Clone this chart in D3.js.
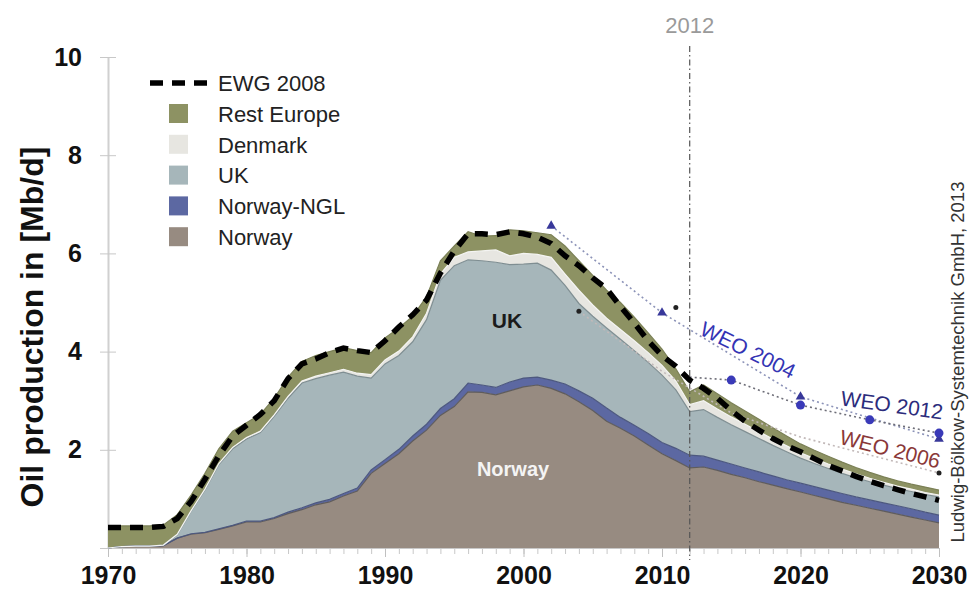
<!DOCTYPE html>
<html>
<head>
<meta charset="utf-8">
<script src="https://cdn.jsdelivr.net/npm/d3@7"></script>
<style>
  body { margin: 0; background: #fff; }
  svg { font-family: "Liberation Sans", Arial, sans-serif; }
</style>
</head>
<body>
<svg id="chart" width="974" height="589"></svg>
<script>
// yearly production, Mb/d, 1970..2030
const years = d3.range(1970, 2031)
const norway = [0, .03, .04, .04, .05, .20, .28, .31, .38, .45,
    .53, .53, .60, .70, .78, .88, .94, 1.06, 1.16, 1.52,
    1.72, 1.92, 2.18, 2.40, 2.70, 2.88, 3.18, 3.17, 3.12, 3.20,
    3.28, 3.32, 3.25, 3.14, 2.98, 2.80, 2.58, 2.44, 2.28, 2.10,
    1.92, 1.78, 1.63, 1.65, 1.58, 1.50, 1.43, 1.35, 1.28, 1.21,
    1.14, 1.07, 1.00, .93, .87, .81, .75, .69, .63, .57, .51]
const norwayNgl = [0, 0, 0, 0, 0, 0, .01, .01, .01, .01,
    .02, .02, .02, .03, .04, .04, .05, .05, .06, .07,
    .08, .09, .10, .12, .14, .16, .18, .15, .15, .18,
    .18, .16, .17, .20, .22, .25, .27, .22, .22, .23,
    .23, .25, .26, .22, .21, .21, .20, .20, .19, .18,
    .18, .18, .18, .18, .17, .17, .17, .17, .17, .16, .16]
const uk = [0, 0, 0, 0, .01, .07, .46, .86, 1.31, 1.56,
    1.67, 1.80, 2.06, 2.32, 2.54, 2.53, 2.53, 2.47, 2.28, 1.87,
    1.95, 1.91, 1.92, 2.13, 2.61, 2.71, 2.51, 2.53, 2.55, 2.39,
    2.32, 2.32, 2.24, 2.01, 1.78, 1.67, 1.63, 1.59, 1.52, 1.45,
    1.37, 1.19, .89, .95, .87, .80, .74, .68, .62, .57,
    .51, .47, .44, .41, .39, .37, .36, .35, .35, .36, .37]
const denmark = [0, 0, 0, 0, 0, .01, .01, .02, .02, .03,
    .03, .03, .03, .04, .04, .05, .05, .06, .06, .07,
    .08, .09, .10, .13, .13, .17, .16, .20, .25, .18,
    .22, .18, .26, .23, .27, .23, .20, .20, .20, .20,
    .20, .18, .14, .18, .17, .16, .15, .14, .13, .12,
    .11, .10, .09, .09, .08, .07, .06, .05, .05, .04, .04]
const restEurope = [.45, .42, .41, .41, .41, .40, .32, .32, .30, .33,
    .30, .34, .34, .39, .40, .42, .43, .44, .46, .45,
    .45, .47, .42, .34, .27, .23, .41, .30, .29, .53,
    .46, .44, .46, .57, .60, .60, .57, .55, .48, .40,
    .33, .25, .26, .32, .31, .29, .27, .25, .23, .20,
    .18, .17, .16, .14, .13, .12, .11, .11, .10, .11, .10]
const ewg2008 = [.42, .42, .42, .42, .44, .60, .95, 1.40, 1.88, 2.28,
    2.50, 2.72, 3.00, 3.45, 3.75, 3.85, 3.98, 4.07, 4.02, 3.98,
    4.22, 4.50, 4.75, 5.05, 5.60, 6.05, 6.40, 6.40, 6.38, 6.44,
    6.40, 6.33, 6.20, 5.95, 5.75, 5.50, 5.28, 4.92, 4.58, 4.22,
    3.92, 3.70, 3.42, 3.25, 3.05, 2.80, 2.58, 2.40, 2.23, 2.08,
    1.96, 1.82, 1.68, 1.57, 1.46, 1.36, 1.27, 1.19, 1.11, 1.04, .97]

// WEO outlooks
const weo2004Years = [2002, 2010, 2020, 2030]
const weo2004Values = [6.56, 4.79, 3.08, 2.22]
const weo2006Years = [2004, 2010, 2015, 2020, 2030]
const weo2006Values = [4.82, 3.60, 2.75, 2.26, 1.53]
const weo2012Years = [2012, 2015, 2020, 2025, 2030]
const weo2012Values = [3.48, 3.42, 2.91, 2.61, 2.34]
const weoDotYears = [2004, 2011, 2030]
const weoDotValues = [4.82, 4.90, 1.53]

const keys = ['norway', 'norwayNgl', 'uk', 'denmark', 'restEurope']
const labels = {norway: 'Norway', norwayNgl: 'Norway-NGL', uk: 'UK', denmark: 'Denmark', restEurope: 'Rest Europe'}
const fills = {norway: '#978b81', norwayNgl: '#5c68a2', uk: '#a6b6ba', denmark: '#e7e6e1', restEurope: '#8d9263'}
const edges = {norway: '#5f5c5c', norwayNgl: '#4d587f', uk: '#7f8e92', denmark: '#f4f4f2', restEurope: '#7b8056'}
const yTicks = [2, 4, 6, 8, 10]
const xTicks = [1970, 1980, 1990, 2000, 2010, 2020, 2030]

const svg = d3.select('#chart')
const x = d3.scaleLinear().domain([1970, 2030]).range([108, 939])
const y = d3.scaleLinear().domain([0, 10]).range([548, 57])

const rows = years.map((yr, i) => ({
    year: yr, norway: norway[i], norwayNgl: norwayNgl[i], uk: uk[i],
    denmark: denmark[i], restEurope: restEurope[i]
}))
const stacked = d3.stack().keys(keys)(rows)

const area = d3.area()
    .x(d => x(d.data.year))
    .y0(d => y(d[0]))
    .y1(d => y(d[1]))
const topLine = d3.line()
    .x(d => x(d.data.year))
    .y(d => y(d[1]))

// axes first, areas cover them
const xMinor = svg.append('g')
    .attr('transform', `translate(0,${y(0)})`)
    .call(d3.axisBottom(x).tickValues(years).tickSize(6).tickFormat(''))
xMinor.select('.domain').attr('stroke', '#c8c8c8')
xMinor.selectAll('.tick line').attr('stroke', '#c8c8c8')

const xMajor = svg.append('g')
    .attr('transform', `translate(0,${y(0)})`)
    .call(d3.axisBottom(x).tickValues(xTicks).tickSize(9).tickPadding(9).tickFormat(d3.format('d')))
xMajor.select('.domain').remove()
xMajor.selectAll('.tick line').attr('stroke', '#c0c0c0')
xMajor.selectAll('.tick text')
    .attr('font-size', 25).attr('font-weight', 'bold').attr('fill', '#111')
    .attr('font-family', '"Liberation Sans", Arial, sans-serif')

const yAxis = svg.append('g')
    .attr('transform', `translate(${x(1970)},0)`)
    .call(d3.axisLeft(y).tickValues([0].concat(yTicks)).tickSize(8).tickPadding(18).tickSizeOuter(0))
yAxis.select('.domain').attr('stroke', '#d0d0d0').attr('stroke-width', 2)
yAxis.selectAll('.tick line').attr('x2', 8).attr('x1', -8).attr('stroke', '#c8c8c8')
yAxis.selectAll('.tick text')
    .text(d => d === 0 ? '' : d)
    .attr('font-size', 25).attr('font-weight', 'bold').attr('fill', '#111')
    .attr('font-family', '"Liberation Sans", Arial, sans-serif')

svg.append('text')
    .attr('transform', `translate(43,327) rotate(-90)`)
    .attr('text-anchor', 'middle')
    .attr('font-size', 32).attr('font-weight', 'bold').attr('fill', '#111')
    .text('Oil production in [Mb/d]')

// stacked areas
svg.append('g').selectAll('path.layer')
    .data(stacked)
    .join('path')
    .attr('class', 'layer')
    .attr('d', area)
    .attr('fill', d => fills[d.key])

svg.append('g').selectAll('path.edge')
    .data(stacked)
    .join('path')
    .attr('class', 'edge')
    .attr('d', topLine)
    .attr('fill', 'none')
    .attr('stroke', d => edges[d.key])
    .attr('stroke-width', 1.2)

// 2012 marker line
svg.append('line')
    .attr('x1', x(2012)).attr('x2', x(2012))
    .attr('y1', 46).attr('y2', y(0) + 12)
    .attr('stroke', '#555').attr('stroke-width', 1.2)
    .attr('stroke-dasharray', '6,3,1.5,3')
svg.append('text')
    .attr('x', x(2012)).attr('y', 33)
    .attr('text-anchor', 'middle')
    .attr('font-size', 22).attr('fill', '#9a9a9a')
    .text('2012')

// WEO outlooks
const pts = (ys, vs) => ys.map((yr, i) => [x(yr), y(vs[i])])
const weoLine = d3.line()

svg.append('path')
    .attr('d', weoLine(pts(weo2004Years, weo2004Values)))
    .attr('fill', 'none').attr('stroke', '#8c93b8').attr('stroke-width', 1.6)
    .attr('stroke-dasharray', '2,3')
svg.append('path')
    .attr('d', weoLine(pts(weo2006Years, weo2006Values)))
    .attr('fill', 'none').attr('stroke', '#c2b9b9').attr('stroke-width', 1.6)
    .attr('stroke-dasharray', '2,3')
svg.append('path')
    .attr('d', weoLine(pts(weo2012Years, weo2012Values)))
    .attr('fill', 'none').attr('stroke', '#6e6e78').attr('stroke-width', 1.6)
    .attr('stroke-dasharray', '2,3')

const tri = d3.symbol().type(d3.symbolTriangle).size(40)
svg.append('g').selectAll('path')
    .data(pts(weo2004Years, weo2004Values))
    .join('path')
    .attr('transform', d => `translate(${d[0]},${d[1]})`)
    .attr('d', tri)
    .attr('fill', '#38389a')

svg.append('g').selectAll('circle')
    .data(pts(weo2012Years, weo2012Values).slice(1))
    .join('circle')
    .attr('cx', d => d[0]).attr('cy', d => d[1])
    .attr('r', 4.5).attr('fill', '#3a3ab8')

svg.append('g').selectAll('circle')
    .data(pts(weoDotYears, weoDotValues))
    .join('circle')
    .attr('cx', d => d[0]).attr('cy', d => d[1])
    .attr('r', 2.5).attr('fill', '#222')

// EWG 2008 dashed
svg.append('path')
    .datum(years.map((yr, i) => [x(yr), y(ewg2008[i])]))
    .attr('d', d3.line())
    .attr('fill', 'none').attr('stroke', '#000').attr('stroke-width', 5.5)
    .attr('stroke-dasharray', '13,9')

// labels on chart
svg.append('text')
    .attr('x', 507).attr('y', 328).attr('text-anchor', 'middle')
    .attr('font-size', 21).attr('font-weight', 'bold').attr('fill', '#1b1b1b')
    .text('UK')
svg.append('text')
    .attr('x', 513).attr('y', 476).attr('text-anchor', 'middle')
    .attr('font-size', 20).attr('font-weight', 'bold').attr('fill', '#f4f4f4')
    .text('Norway')

const weoLabels = [
    {text: 'WEO 2004', cx: 748, cy: 350, angle: 26, color: '#3434b4'},
    {text: 'WEO 2012', cx: 892, cy: 405, angle: 8, color: '#2c2c7c'},
    {text: 'WEO 2006', cx: 890, cy: 449, angle: 14, color: '#8a3838'}
]
svg.append('g').selectAll('text')
    .data(weoLabels)
    .join('text')
    .attr('transform', d => `translate(${d.cx},${d.cy}) rotate(${d.angle})`)
    .attr('text-anchor', 'middle').attr('dy', '0.35em')
    .attr('font-size', 21).attr('fill', d => d.color)
    .text(d => d.text)

svg.append('text')
    .attr('transform', `translate(964,362) rotate(-90)`)
    .attr('text-anchor', 'middle')
    .attr('font-size', 18.5).attr('fill', '#333')
    .text('Ludwig-Bölkow-Systemtechnik GmbH, 2013')

// legend
const legend = svg.append('g').attr('transform', 'translate(150,83)')
legend.append('line')
    .attr('x1', 0).attr('x2', 57).attr('y1', 0).attr('y2', 0)
    .attr('stroke', '#000').attr('stroke-width', 5.5)
    .attr('stroke-dasharray', '13,9')
legend.append('text')
    .attr('x', 68).attr('y', 0).attr('dy', '0.35em')
    .attr('font-size', 22).attr('fill', '#222')
    .text('EWG 2008')
const legendKeys = keys.slice().reverse()
const rowsG = legend.selectAll('g.item')
    .data(legendKeys)
    .join('g')
    .attr('class', 'item')
    .attr('transform', (d, i) => `translate(0,${31 + i * 30.8})`)
rowsG.append('rect')
    .attr('x', 19).attr('y', -10).attr('width', 19).attr('height', 19)
    .attr('fill', d => fills[d])
rowsG.append('text')
    .attr('x', 68).attr('y', 0).attr('dy', '0.35em')
    .attr('font-size', 22).attr('fill', '#222')
    .text(d => labels[d])
</script>
</body>
</html>
